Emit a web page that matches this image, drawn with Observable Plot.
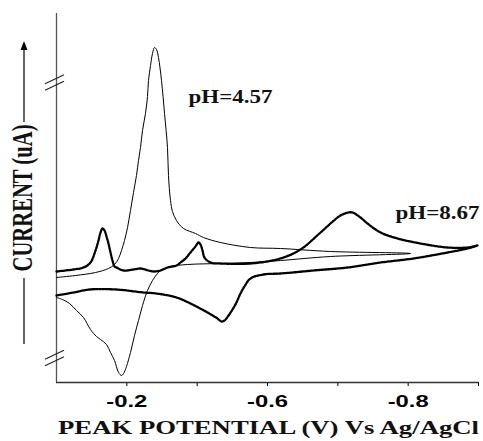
<!DOCTYPE html>
<html><head><meta charset="utf-8">
<script src="https://cdn.jsdelivr.net/npm/d3@7"></script>
<script src="https://cdn.jsdelivr.net/npm/@observablehq/plot@0.6"></script>
<style>html,body{margin:0;padding:0;background:#fff;overflow:hidden}</style>
</head><body><div id="chart"></div>
<script>
// x: position along the potential axis in tick divisions (0..6); y: current, arbitrary units
const tickPositions = [1, 2, 3, 4, 5, 6];
const tickLabels = ["-0.2", "", "-0.6", "", "-0.8", ""];
const seriesNames = ["pH=4.57", "pH=8.67"];
const seriesLabelX = [1.877, 4.82];
const seriesLabelY = [284.8, 168.8];

const ph457X = [0,0.270,0.555,0.739,0.825,0.882,0.924,0.967,1.010,1.052,1.095,1.137,1.166,1.194,1.223,1.265,1.294,1.308,1.337,1.365,1.393,1.422,1.450,1.493,1.536,1.578,1.592,1.621,1.649,1.706,1.806,1.976,2.090,2.332,2.758,3.185,3.896,5.033,
  3.896,3.185,2.758,2.332,1.863,1.621,1.479,1.436,1.365,1.294,1.223,1.166,1.109,1.052,0.995,0.953,0.924,0.882,0.825,0.768,0.711,0.626,0.569,0.483,0.384,0.284,0.185,0.085,0];
const ph457Y = [105,107,110,114,118,124,132,142,155,172,190,207,222,235,252,269,286,302,317,329,335,333,325,302,269,235,207,182,171,162,154,149,145,140,135,134,131,129,
  126,122,120,119,118,116,112,109,102,92,77,62,47,30,16,9,7,10,22,30,38,43,46,53,65,72,79,83,85];

const ph867X = [0,0.242,0.384,0.483,0.555,0.597,0.626,0.654,0.683,0.711,0.739,0.768,0.796,0.825,0.853,0.953,1.095,1.194,1.308,1.379,1.479,1.578,1.706,1.763,1.834,1.905,1.976,2.019,2.047,2.076,2.104,2.190,2.332,2.758,3.185,3.469,3.754,3.896,4.038,4.152,4.209,4.322,4.422,4.607,4.849,5.175,5.560,5.844,5.986,
  5.844,5.560,5.076,4.607,4.138,3.654,3.185,2.943,2.758,2.673,2.616,2.559,2.503,2.446,2.389,2.346,2.289,2.147,1.905,1.706,1.422,1.237,0.853,0.469,0.242,0];
const ph867Y = [111,113,115,120,132,142,150,154,152,146,139,130,122,116,115,112,113,114,112,111,112,115,117,120,124,130,136,140,138,132,125,120,119,119,124,133,150,159,167,170,170,165,159,150,144,139,135,135,137,
  134,130,124,120,115,112,109,108,104,96,89,80,73,67,62,61,64,70,79,85,89,90,93,93,90,87];

const d457 = ph457X.map((x, i) => ({x, y: ph457Y[i]}));
const d867 = ph867X.map((x, i) => ({x, y: ph867Y[i]}));
const labels = seriesNames.map((name, i) => ({name, x: seriesLabelX[i], y: seriesLabelY[i]}));

const serif = "'Liberation Serif', 'Times New Roman', serif";
const plot = Plot.plot({
  width: 483, height: 441,
  marginLeft: 56, marginRight: 5, marginTop: 13, marginBottom: 59,
  style: {background: "#fff", color: "#000", fontFamily: "'Liberation Sans', Arial, sans-serif", fontSize: "16px", overflow: "visible"},
  x: {domain: [0, 6], ticks: tickPositions, tickFormat: d => tickLabels[tickPositions.indexOf(d)] ?? "", tickSize: 4, tickPadding: 9, label: null},
  y: {domain: [0, 369], axis: null},
  marks: [
    Plot.ruleX([0], {stroke: "#555", strokeWidth: 1.3}),
    Plot.ruleY([0], {stroke: "#333", strokeWidth: 1.3}),
    Plot.line(d457, {x: "x", y: "y", stroke: "#000", strokeWidth: 1, curve: "catmull-rom"}),
    Plot.line(d867, {x: "x", y: "y", stroke: "#000", strokeWidth: 2.3, strokeDasharray: "2,1.2", curve: "catmull-rom"}),
    Plot.text(labels, {x: "x", y: "y", text: "name", textAnchor: "start", fontFamily: serif, fontWeight: "bold", fontSize: 18, fill: "#111"})
  ]
});
document.getElementById("chart").appendChild(plot);

const svg = d3.select(plot);
const stretch = {"pH=4.57": 84, "pH=8.67": 84, "-0.2": 41, "-0.6": 41, "-0.8": 41};
svg.selectAll("text").each(function() {
  const t = d3.select(this);
  const s = t.text().trim();
  if (tickLabels.includes(s) && s !== "") {
    t.attr("font-weight", "bold").attr("font-size", 16).attr("font-family", "'Liberation Sans', Arial, sans-serif");
  }
  if (stretch[s]) t.attr("textLength", stretch[s]).attr("lengthAdjust", "spacingAndGlyphs");
});

const ys = plot.scale("y");
const Y = d3.scaleLinear(ys.domain, ys.range);
const x0 = 56;
// axis break marks
const deco = svg.append("g").attr("stroke", "#222").attr("stroke-width", 1.1).attr("fill", "none");
for (const by of [299.5, 24]) {
  const yc = Y(by);
  for (const dy of [-3.2, 3.2]) {
    deco.append("line").attr("x1", x0 - 11).attr("y1", yc + dy + 4.5).attr("x2", x0 + 8).attr("y2", yc + dy - 4.5);
  }
}
// y title with arrow
deco.append("line").attr("x1", 24).attr("y1", 122).attr("x2", 24).attr("y2", 48).attr("stroke", "#000").attr("stroke-width", 1.2);
deco.append("path").attr("d", "M24,41 L20.5,50 L27.5,50 Z").attr("fill", "#000").attr("stroke", "none");
deco.append("line").attr("x1", 24).attr("y1", 278).attr("x2", 24).attr("y2", 344).attr("stroke", "#000").attr("stroke-width", 1.2);

svg.append("text")
  .attr("transform", "translate(22.5,198) scale(1.45,1) rotate(-90)")
  .attr("text-anchor", "middle").attr("dominant-baseline", "central")
  .attr("font-family", serif).attr("font-weight", "bold").attr("font-size", 20)
  .attr("textLength", 147).attr("lengthAdjust", "spacingAndGlyphs").attr("fill", "#111")
  .text("CURRENT (uA)");

svg.append("text")
  .attr("x", 58).attr("y", 434).attr("text-anchor", "start")
  .attr("font-family", serif).attr("font-weight", "bold").attr("font-size", 19)
  .attr("textLength", 421).attr("lengthAdjust", "spacingAndGlyphs").attr("fill", "#111")
  .text("PEAK POTENTIAL (V) Vs Ag/AgCl");
</script>
</body></html>
